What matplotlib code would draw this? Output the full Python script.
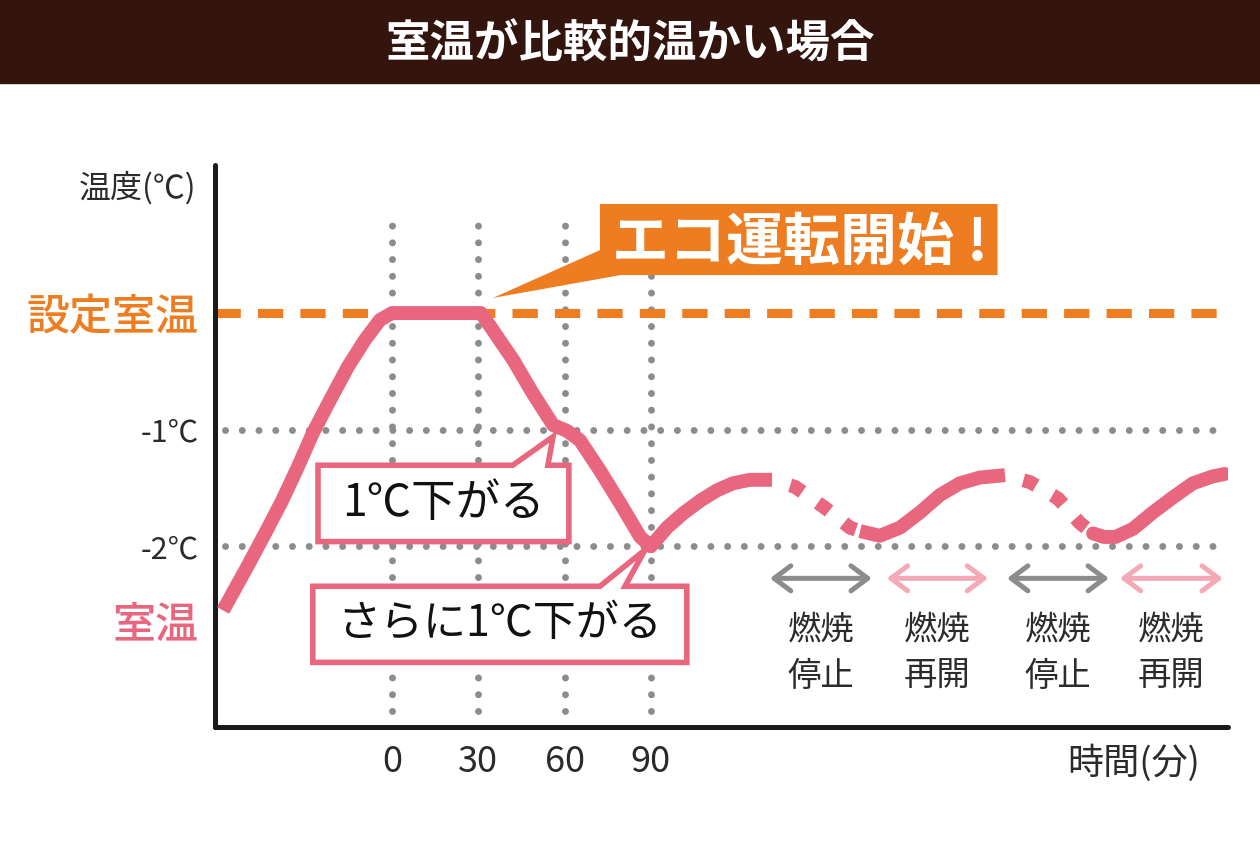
import matplotlib
matplotlib.use('Agg')
import matplotlib.pyplot as plt
from matplotlib.patches import Rectangle, Polygon

plt.rcParams['font.family'] = ['Noto Sans CJK JP', 'DejaVu Sans']

# room temperature, minutes vs. degrees relative to the set temperature
main_time = [-58.7, -50.4, -44.1, -38.2, -32.7, -27.5, -21.6, -15.3, -9.4, -4.2, 0, 31,
             42.1, 49.0, 56.0, 60.8, 65.3, 72.3, 79.3, 86.3, 90,
             95.6, 101.1, 107.1, 113.0, 118.5, 124.4, 132.1]
main_temp = [-2.55, -2.18, -1.89, -1.61, -1.32, -1.03, -0.75, -0.46, -0.23, -0.06, 0, 0,
             -0.40, -0.69, -0.96, -1.01, -1.09, -1.35, -1.63, -1.92, -2.0,
             -1.84, -1.72, -1.61, -1.52, -1.46, -1.43, -1.43]
off1_time = [132.1, 140.1, 150.5, 159.2, 162.7]
off1_temp = [-1.43, -1.49, -1.67, -1.84, -1.87]
on1_time = [162.7, 169.6, 176.6, 183.5, 190.5, 197.4, 204.4, 213.1]
on1_temp = [-1.87, -1.91, -1.84, -1.71, -1.56, -1.46, -1.41, -1.39]
off2_time = [213.1, 221.8, 231.5, 239.1, 243.7]
off2_temp = [-1.39, -1.45, -1.59, -1.80, -1.89]
on2_time = [243.7, 247.5, 251.5, 257.6, 264.5, 271.5, 278.4, 285.4, 289.5]
on2_temp = [-1.89, -1.92, -1.92, -1.85, -1.71, -1.58, -1.46, -1.40, -1.38]

grid_times = [0, 30, 60, 90]
grid_temps = [-1, -2]
ytick_vals = [0, -1, -2, -2.64]
ytick_labels = ['設定室温', '-1℃', '-2℃', '室温']

phase_spans = [(131.4, 166.8), (172.0, 207.2), (213.8, 249.2), (253.0, 288.8)]
phase_labels = [('燃焼', '停止'), ('燃焼', '再開'), ('燃焼', '停止'), ('燃焼', '再開')]

PINK = '#e9667f'
ORANGE = '#ee7d22'
GRAY = '#8c8c8c'
TEXT = '#2b2b2b'

fig = plt.figure(figsize=(12.6, 8.5), dpi=100)
fig.patches.append(Rectangle((0, 1 - 83 / 850), 1, 83 / 850, transform=fig.transFigure,
                             color='#33150d', zorder=0))
fig.text(0.5, 1 - 45 / 850, '室温が比較的温かい場合', ha='center', va='center',
         color='white', fontsize=32, fontweight='bold')

ax = fig.add_axes([215 / 1260, 123 / 850, 1013 / 1260, 562 / 850])
ax.set_xlim(-61.5, 290.6)
ax.set_ylim(-3.55, 1.27)

for s in ['top', 'right']:
    ax.spines[s].set_visible(False)
for s in ['left', 'bottom']:
    ax.spines[s].set_linewidth(3.6)
    ax.spines[s].set_color('#1a1a1a')
    ax.spines[s].set_capstyle('round')

# dotted guides
dot_style = dict(color=GRAY, lw=5, linestyle=(0, (0.01, 2.4)), dash_capstyle='round', zorder=1)
for t in grid_times:
    ax.plot([t, t], [-3.41, 0.87], **dot_style)
for v in grid_temps:
    ax.axhline(v, xmin=0.01, **dot_style)

# set temperature
ax.axhline(0, color=ORANGE, lw=6.5, linestyle=(0, (2.8, 1.9)), zorder=2)

# room temperature curve
solid = dict(color=PINK, lw=10, solid_joinstyle='round', solid_capstyle='butt', zorder=5)
ax.plot(main_time, main_temp, **solid)
ax.plot(on1_time, on1_temp, **solid)
ax.plot(on2_time, on2_temp, **dict(solid, solid_capstyle='round'))
dashed = dict(color=PINK, lw=10, linestyle=(1.0, (1.0, 1.37)), dash_capstyle='butt', zorder=5)
ax.plot(off1_time, off1_temp, **dashed)
ax.plot(off2_time, off2_temp, **dashed)


def callout(left, right, bottom, top, base0, base1, tip, text, y_text, size):
    verts = [(left, bottom), (right, bottom), (right, top), (base1, top), tip, (base0, top), (left, top)]
    ax.add_patch(Polygon(verts, closed=True, facecolor='white', edgecolor=PINK, lw=4,
                         joinstyle='miter', zorder=4))
    ax.text((left + right) / 2, y_text, text, ha='center', va='center', fontsize=size,
            color='#111111', zorder=6)


callout(-25.7, 61.5, -1.96, -1.305, 42.0, 54.2, (56.0, -1.06), '1℃下がる', -1.63, 32)
callout(-27.5, 102.5, -2.996, -2.343, 72.3, 81.0, (88.0, -2.03), 'さらに1℃下がる', -2.67, 31)

# eco start callout
eco = [(72.3, 0.936), (210.5, 0.936), (210.5, 0.326), (79.5, 0.326), (35.1, 0.13), (72.3, 0.54)]
ax.add_patch(Polygon(eco, closed=True, facecolor=ORANGE, edgecolor='none', zorder=6))
ax.text(76.5, 0.60, 'エコ運転開始 !', ha='left', va='center', fontsize=41,
        fontweight='bold', color='white', zorder=7)

# burner phases
for i, ((a, b), (l1, l2)) in enumerate(zip(phase_spans, phase_labels)):
    c = GRAY if i % 2 == 0 else '#f5a9b6'
    ax.annotate('', xy=(b, -2.275), xytext=(a, -2.275),
                arrowprops=dict(arrowstyle='<->,head_length=0.6,head_width=0.45', lw=3.6,
                                color=c, shrinkA=0, shrinkB=0, mutation_scale=20,
                                joinstyle='round', capstyle='round'))
    mid = (a + b) / 2
    ax.text(mid, -2.72, l1, ha='center', va='center', fontsize=24, color=TEXT)
    ax.text(mid, -3.12, l2, ha='center', va='center', fontsize=24, color=TEXT)

# axes labels
ax.set_xticks(grid_times, [str(t) for t in grid_times])
ax.tick_params(axis='x', length=0, pad=12, labelsize=26, labelcolor=TEXT)
ax.set_yticks(ytick_vals, ytick_labels)
ax.tick_params(axis='y', length=0, pad=12)
for lab, col, size in zip(ax.get_yticklabels(), [ORANGE, TEXT, TEXT, PINK], [31, 22, 22, 31]):
    lab.set_color(col)
    lab.set_fontsize(size)
    if size > 30:
        lab.set_fontweight('medium')

ax.text(-68.0, 1.07, '温度(℃)', ha='right', va='center', fontsize=23, color=TEXT, clip_on=False)
ax.text(280.8, -3.86, '時間(分)', ha='right', va='center', fontsize=26, color=TEXT, clip_on=False)

fig.savefig('out.png', dpi=100)
